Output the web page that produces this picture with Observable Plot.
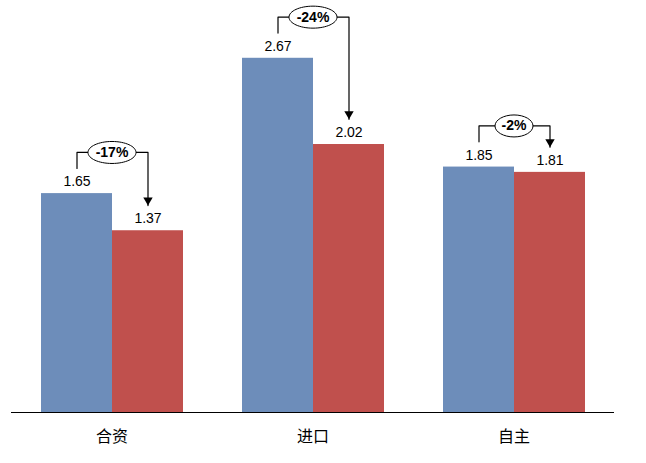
<!DOCTYPE html>
<html><head><meta charset="utf-8">
<script src="https://cdn.jsdelivr.net/npm/d3@7"></script>
<script src="https://cdn.jsdelivr.net/npm/@observablehq/plot@0.6"></script>
<style>
body{margin:0;background:#fff}
svg g[aria-label^="fx-axis"] text{font-size:16px !important}
</style>
</head><body><div id="chart"></div>
<script>
const categories = ["合资", "进口", "自主"];
const seriesNames = ["A", "B"];
const valuesA = [1.65, 2.67, 1.85];
const valuesB = [1.37, 2.02, 1.81];
const changeLabels = ["-17%", "-24%", "-2%"];

const bars = categories.flatMap((c, i) => [
  {cat: c, s: "A", v: valuesA[i]},
  {cat: c, s: "B", v: valuesB[i]}
]);
const annos = categories.map((c, i) => ({cat: c, a: valuesA[i], b: valuesB[i], label: changeLabels[i],
  top: Math.max(valuesA[i], valuesB[i]) + 0.31}));
const bracket = annos.flatMap(d => [
  {cat: d.cat, s: "A", y: d.a + 0.19},
  {cat: d.cat, s: "A", y: d.top},
  {cat: d.cat, s: "B", y: d.top},
  {cat: d.cat, s: "B", y: d.b + 0.19}
]);

const ellipse = {draw(ctx, size) {
  const rx = Math.sqrt(size / Math.PI), ry = 11, k = 0.5523;
  ctx.moveTo(rx, 0);
  ctx.bezierCurveTo(rx, ry * k, rx * k, ry, 0, ry);
  ctx.bezierCurveTo(-rx * k, ry, -rx, ry * k, -rx, 0);
  ctx.bezierCurveTo(-rx, -ry * k, -rx * k, -ry, 0, -ry);
  ctx.bezierCurveTo(rx * k, -ry, rx, -ry * k, rx, 0);
  ctx.closePath();
}};
const downTri = {draw(ctx) {
  ctx.moveTo(-4.7, -8); ctx.lineTo(4.7, -8); ctx.lineTo(0, 0); ctx.closePath();
}};

const chart = Plot.plot({
  width: 646, height: 463,
  marginLeft: 11, marginRight: 32, marginTop: 14, marginBottom: 51,
  style: {fontFamily: "'Liberation Sans', 'Noto Sans CJK SC', sans-serif", fontSize: "15px", background: "#fff"},
  fx: {domain: categories, padding: 0, label: null, tickSize: 0, tickPadding: 18, axis: "bottom"},
  x: {domain: seriesNames, paddingInner: 0, paddingOuter: 0.41, axis: null},
  y: {domain: [0, 3], axis: null},
  r: {type: "identity"},
  color: {domain: seriesNames, range: ["#6d8dba", "#c0504d"]},
  marks: [
    Plot.barY(bars, {fx: "cat", x: "s", y: "v", fill: "s"}),
    Plot.ruleY([0], {stroke: "#000", strokeWidth: 1.2}),
    Plot.text(bars, {fx: "cat", x: "s", y: "v", text: d => d.v.toFixed(2), dy: -12, fontSize: 14, fill: "#000"}),
    Plot.line(bracket, {fx: "cat", x: "s", y: "y", z: "cat", stroke: "#000", strokeWidth: 1.2, curve: "linear"}),
    Plot.dot(annos, {fx: "cat", x: () => "B", y: d => d.b + 0.19, symbol: downTri, fill: "#000", stroke: "none"}),
    Plot.dot(annos, {fx: "cat", y: "top", r: d => d.label.length * 5 + 4, symbol: ellipse, fill: "#fff", stroke: "#000", strokeWidth: 1}),
    Plot.text(annos, {fx: "cat", y: "top", text: "label", fontWeight: "bold", fontSize: 14, fill: "#000"})
  ]
});
document.getElementById("chart").appendChild(chart);
</script></body></html>
